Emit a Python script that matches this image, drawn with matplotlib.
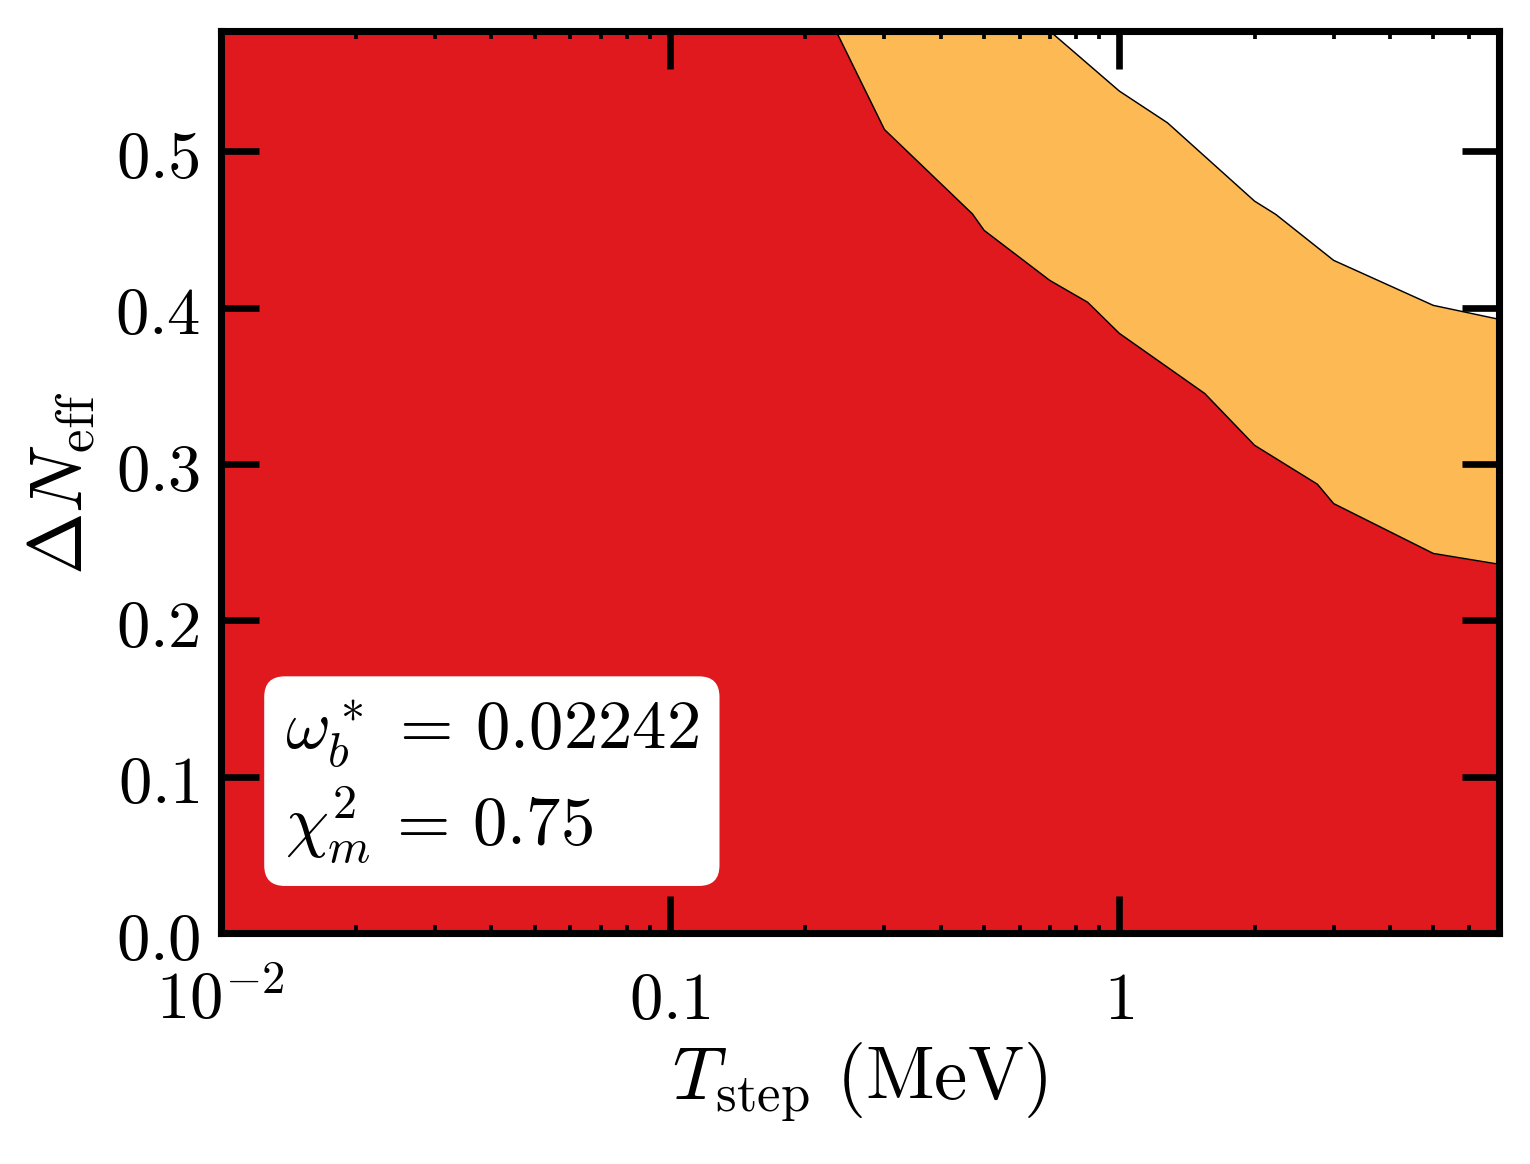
import numpy as np
import matplotlib
matplotlib.use('Agg')
import matplotlib.pyplot as plt
from matplotlib.ticker import FixedLocator, FixedFormatter, LogLocator, NullFormatter

plt.rcParams['mathtext.fontset'] = 'cm'
plt.rcParams['font.family'] = 'serif'
plt.rcParams['font.serif'] = ['DejaVu Serif']

# red region (below lower curve)
t_low = [0.01, 0.2, 0.3, 0.471, 0.5, 0.7, 0.85, 1.0, 1.55, 2.0, 2.76, 3.0, 5.0, 7.0]
dn_low = [0.617, 0.617, 0.514, 0.460, 0.4495, 0.4175, 0.4035, 0.3836, 0.3451, 0.312, 0.2871, 0.2747, 0.2428, 0.2359]

# orange region (below upper curve)
t_up = [0.5, 0.7, 1.0, 1.28, 2.0, 2.23, 3.0, 5.0, 7.0]
dn_up = [0.606, 0.577, 0.5386, 0.5183, 0.4682, 0.4597, 0.4303, 0.4015, 0.3926]

y_ticks = [0.0, 0.1, 0.2, 0.3, 0.4, 0.5]
x_ticks = [0.01, 0.1, 1.0]
x_ticklabels = [r'$10^{-2}$', r'$0.1$', r'$1$']

red = '#e0191e'
orange = '#fdb954'

fig = plt.figure(figsize=(5.1, 3.8833), dpi=300)
ax = fig.add_axes([0.1444, 0.1983, 0.8353, 0.7742])

ax.set_facecolor(orange)
ax.fill_between(t_up, dn_up, 1.0, color='white', lw=0)
ax.fill_between(t_low, 0, dn_low, color=red, lw=0)
ax.plot(t_up, dn_up, color='k', lw=0.35)
ax.plot(t_low, dn_low, color='k', lw=0.35)

ax.set_xscale('log')
ax.set_xlim(0.01, 7.0)
ax.set_ylim(0, 0.577)

ax.xaxis.set_major_locator(FixedLocator(x_ticks))
ax.xaxis.set_major_formatter(FixedFormatter(x_ticklabels))
ax.xaxis.set_minor_locator(LogLocator(base=10, subs=np.arange(2, 10)))
ax.xaxis.set_minor_formatter(NullFormatter())
ax.yaxis.set_major_locator(FixedLocator(y_ticks))
ax.yaxis.set_major_formatter(FixedFormatter([r'$%.1f$' % v for v in y_ticks]))

ax.tick_params(which='both', direction='in', top=True, right=True, labelsize=16)
ax.tick_params(which='major', length=9, width=1.6, pad=5)
ax.tick_params(axis='x', which='major', pad=8)
ax.tick_params(which='minor', length=2, width=0.9)
for s in ax.spines.values():
    s.set_linewidth(1.7)
    s.set_zorder(5)

ax.set_xlabel(r'$T_{\rm step}\ ({\rm MeV})$', fontsize=18, labelpad=2)
ax.set_ylabel(r'$\Delta N_{\rm eff}$', fontsize=18, labelpad=4)

ax.text(0.05, 0.075, '$\\omega_b^*\\,=\\,0.02242$\n$\\chi^2_m\\,=\\,0.75$', transform=ax.transAxes,
        fontsize=16.5, ha='left', va='bottom', linespacing=1.25,
        bbox=dict(boxstyle='round,pad=0.3', fc='white', ec='none'))

fig.savefig('out.png', dpi=300)
